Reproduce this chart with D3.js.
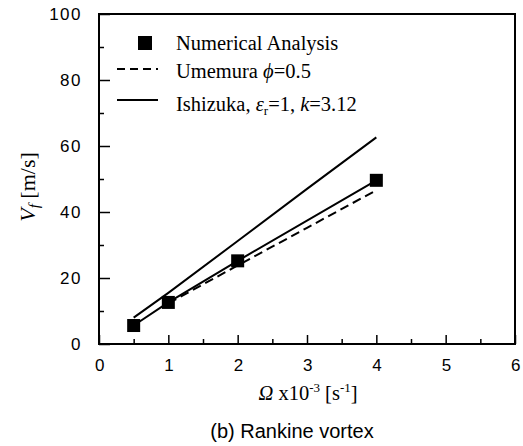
<!DOCTYPE html>
<html><head><meta charset="utf-8">
<script src="https://cdn.jsdelivr.net/npm/d3@7"></script>
<style>body{margin:0;background:#fff}svg{display:block}</style>
</head><body>
<svg id="c" width="523" height="446"></svg>
<script>
const numX = [0.5, 1, 2, 4];
const numY = [5.6, 12.6, 25.2, 49.6];
const umeX = [1, 2, 3, 4];
const umeY = [12.3, 23.8, 35.2, 46.6];
const ishX = [0.5, 1, 2, 3, 4];
const ishY = [8.0, 15.5, 31.2, 47.0, 62.6];
const xTicks = [0, 1, 2, 3, 4, 5, 6];
const xMinor = [0.5, 1.5, 2.5, 3.5, 4.5, 5.5];
const yTicks = [0, 20, 40, 60, 80, 100];
const yMinor = [10, 30, 50, 70, 90];

const svg = d3.select("#c");
const L = 99, R = 515, T = 14, B = 344;
const x = d3.scaleLinear().domain([0, 6]).range([L, R]);
const y = d3.scaleLinear().domain([0, 100]).range([B, T]);
const sans = "'Liberation Sans', Arial, sans-serif";
const serif = "'Liberation Serif', 'Times New Roman', serif";

// axes
const ax = svg.append("g").attr("transform", `translate(0,${B})`)
  .call(d3.axisBottom(x).tickValues(xTicks).tickSize(-9).tickSizeOuter(0).tickPadding(15).tickFormat(d3.format("d")));
svg.append("g").attr("transform", `translate(0,${B})`)
  .call(d3.axisBottom(x).tickValues(xMinor).tickSize(-5).tickSizeOuter(0).tickFormat(""));
const ay = svg.append("g").attr("transform", `translate(${L},0)`)
  .call(d3.axisLeft(y).tickValues(yTicks).tickSize(-11).tickSizeOuter(0).tickPadding(17).tickFormat(d3.format("d")));
svg.append("g").attr("transform", `translate(${L},0)`)
  .call(d3.axisLeft(y).tickValues(yMinor).tickSize(-5).tickSizeOuter(0).tickFormat(""));
svg.selectAll(".domain").remove();
svg.selectAll(".tick line").attr("stroke", "#000").attr("stroke-width", 1.5);
svg.selectAll(".tick text").attr("fill", "#000").style("font-family", sans).style("font-size", "17px").style("letter-spacing", "1.5px");
ax.selectAll(".tick text").attr("dx", "1px");

svg.append("rect").attr("x", L).attr("y", T).attr("width", R - L).attr("height", B - T)
  .attr("fill", "none").attr("stroke", "#000").attr("stroke-width", 2);

// lines
const line = d3.line().x(d => x(d[0])).y(d => y(d[1]));
svg.append("path").datum(ishX.map((v, i) => [v, ishY[i]])).attr("d", line)
  .attr("fill", "none").attr("stroke", "#000").attr("stroke-width", 2);
svg.append("path").datum(umeX.map((v, i) => [v, umeY[i]])).attr("d", line)
  .attr("fill", "none").attr("stroke", "#000").attr("stroke-width", 2).attr("stroke-dasharray", "9,5");
svg.append("path").datum(numX.map((v, i) => [v, numY[i]])).attr("d", line)
  .attr("fill", "none").attr("stroke", "#000").attr("stroke-width", 2);
const sq = 13;
svg.selectAll("rect.pt").data(numX.map((v, i) => [v, numY[i]])).enter().append("rect")
  .attr("class", "pt").attr("x", d => x(d[0]) - sq / 2).attr("y", d => y(d[1]) - sq / 2)
  .attr("width", sq).attr("height", sq).attr("fill", "#000");

// legend
const lg = svg.append("g");
lg.append("rect").attr("x", 138).attr("y", 36).attr("width", 14).attr("height", 14).attr("fill", "#000");
lg.append("line").attr("x1", 117).attr("x2", 158).attr("y1", 69).attr("y2", 69)
  .attr("stroke", "#000").attr("stroke-width", 2).attr("stroke-dasharray", "8,5");
lg.append("line").attr("x1", 117).attr("x2", 158).attr("y1", 100).attr("y2", 100)
  .attr("stroke", "#000").attr("stroke-width", 2);
const lt = (yy) => lg.append("text").attr("x", 176).attr("y", yy).attr("fill", "#000")
  .style("font-family", serif).style("font-size", "20.5px");
lt(49.5).text("Numerical Analysis");
const t2 = lt(78);
t2.append("tspan").text("Umemura ");
t2.append("tspan").style("font-style", "italic").text("\u03D5");
t2.append("tspan").text("=0.5");
const t3 = lt(111);
t3.append("tspan").text("Ishizuka, ");
t3.append("tspan").style("font-style", "italic").text("\u03B5");
t3.append("tspan").attr("dy", 4).style("font-size", "13px").text("r");
t3.append("tspan").attr("dy", -4).text("=1, ");
t3.append("tspan").style("font-style", "italic").text("k");
t3.append("tspan").text("=3.12");

// axis titles
const xt = svg.append("text").attr("x", 308).attr("y", 400).attr("text-anchor", "middle").attr("fill", "#000")
  .style("font-family", serif).style("font-size", "20.5px");
xt.append("tspan").style("font-style", "italic").text("\u03A9");
xt.append("tspan").text(" x10");
xt.append("tspan").attr("dy", -8).style("font-size", "13px").text("-3");
xt.append("tspan").attr("dy", 8).text(" [s");
xt.append("tspan").attr("dy", -8).style("font-size", "13px").text("-1");
xt.append("tspan").attr("dy", 8).text("]");

const yt = svg.append("text").attr("transform", "translate(35,187) rotate(-90)").attr("text-anchor", "middle")
  .attr("fill", "#000").style("font-family", serif).style("font-size", "22px");
yt.append("tspan").style("font-style", "italic").text("V");
yt.append("tspan").attr("dy", 4).style("font-style", "italic").style("font-size", "15px").text("f");
yt.append("tspan").attr("dy", -4).text(" [m/s]");

svg.append("text").attr("x", 292).attr("y", 438).attr("text-anchor", "middle").attr("fill", "#000")
  .style("font-family", sans).style("font-size", "20px").text("(b) Rankine vortex");
</script>
</body></html>
